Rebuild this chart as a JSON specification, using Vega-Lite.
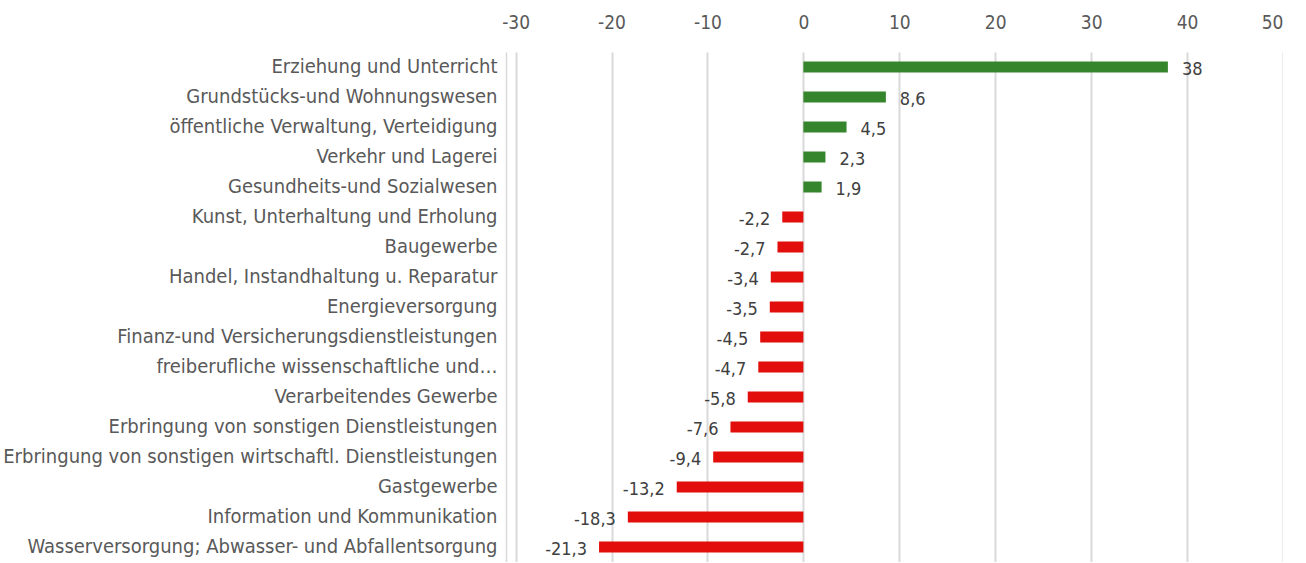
{
  "$schema": "https://vega.github.io/schema/vega-lite/v6.json",
  "width": 777,
  "height": 510,
  "autosize": {"type": "none"},
  "padding": {"left": 506, "top": 52, "right": 0, "bottom": 0},
  "background": "#ffffff",
  "config": {
    "view": {"stroke": null},
    "font": "DejaVu Sans Condensed, Roboto"
  },
  "data": {
    "values": [
      {"branche": "Erziehung und Unterricht", "wert": 38, "label": "38"},
      {"branche": "Grundstücks-und Wohnungswesen", "wert": 8.6, "label": "8,6"},
      {"branche": "öffentliche Verwaltung, Verteidigung", "wert": 4.5, "label": "4,5"},
      {"branche": "Verkehr und Lagerei ", "wert": 2.3, "label": "2,3"},
      {"branche": "Gesundheits-und Sozialwesen", "wert": 1.9, "label": "1,9"},
      {"branche": "Kunst, Unterhaltung und Erholung", "wert": -2.2, "label": "-2,2"},
      {"branche": "Baugewerbe", "wert": -2.7, "label": "-2,7"},
      {"branche": "Handel, Instandhaltung u. Reparatur", "wert": -3.4, "label": "-3,4"},
      {"branche": "Energieversorgung ", "wert": -3.5, "label": "-3,5"},
      {"branche": "Finanz-und Versicherungsdienstleistungen", "wert": -4.5, "label": "-4,5"},
      {"branche": "freiberufliche wissenschaftliche und…", "wert": -4.7, "label": "-4,7"},
      {"branche": "Verarbeitendes Gewerbe", "wert": -5.8, "label": "-5,8"},
      {"branche": "Erbringung von sonstigen Dienstleistungen", "wert": -7.6, "label": "-7,6"},
      {"branche": "Erbringung von sonstigen wirtschaftl. Dienstleistungen", "wert": -9.4, "label": "-9,4"},
      {"branche": "Gastgewerbe ", "wert": -13.2, "label": "-13,2"},
      {"branche": "Information und Kommunikation", "wert": -18.3, "label": "-18,3"},
      {"branche": "Wasserversorgung; Abwasser- und Abfallentsorgung", "wert": -21.3, "label": "-21,3"}
    ]
  },
  "encoding": {
    "y": {
      "field": "branche",
      "type": "nominal",
      "sort": null,
      "scale": {"paddingInner": 0, "paddingOuter": 0},
      "axis": {
        "title": null,
        "orient": "left",
        "ticks": false,
        "domain": true,
        "domainColor": "#d9d9d9",
        "domainWidth": 1.5,
        "labelPadding": 9,
        "labelFontSize": 20,
        "labelColor": "#595959",
        "labelLimit": 600,
        "grid": false
      }
    }
  },
  "layer": [
    {
      "mark": {"type": "bar", "size": 11},
      "encoding": {
        "x": {
          "field": "wert",
          "type": "quantitative",
          "scale": {"domain": [-31, 50], "nice": false, "zero": false},
          "axis": {
            "orient": "top",
            "title": null,
            "values": [-30, -20, -10, 0, 10, 20, 30, 40, 50],
            "labelExpr": "'' + datum.value",
            "domain": false,
            "ticks": false,
            "grid": true,
            "gridColor": "#d9d9d9",
            "gridWidth": 2,
            "labelPadding": 20,
            "labelFontSize": 19,
            "labelColor": "#595959"
          }
        },
        "x2": {"datum": 0},
        "color": {
          "condition": {"test": "datum.wert > 0", "value": "#34852c"},
          "value": "#e20e0b"
        }
      }
    },
    {
      "transform": [{"filter": "datum.wert > 0"}],
      "mark": {"type": "text", "align": "left", "baseline": "middle", "dx": 14, "dy": 3, "fontSize": 18, "color": "#404040"},
      "encoding": {
        "x": {"field": "wert", "type": "quantitative"},
        "text": {"field": "label"}
      }
    },
    {
      "transform": [{"filter": "datum.wert < 0"}],
      "mark": {"type": "text", "align": "right", "baseline": "middle", "dx": -12, "dy": 3, "fontSize": 18, "color": "#404040"},
      "encoding": {
        "x": {"field": "wert", "type": "quantitative"},
        "text": {"field": "label"}
      }
    }
  ]
}
